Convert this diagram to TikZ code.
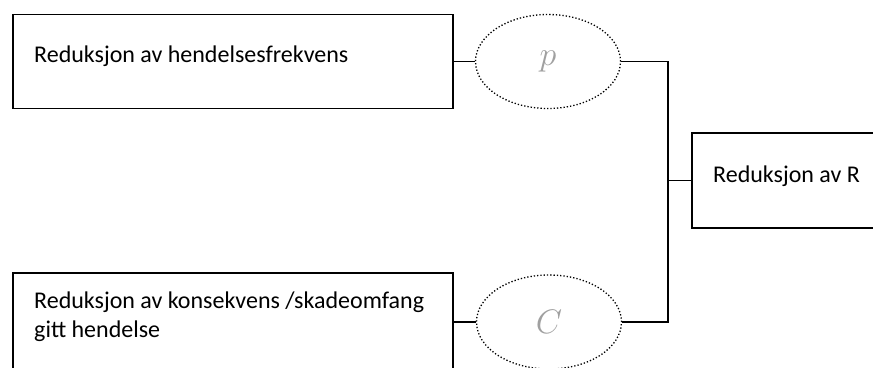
\RequirePackage{fix-cm}
\documentclass[tikz,border=0pt]{standalone}
\usepackage{fontspec}
\setmainfont{Carlito}
\usetikzlibrary{shapes.geometric}
\definecolor{lblgray}{RGB}{160,160,160}
\begin{document}
\begin{tikzpicture}[x=1pt,y=-1pt,
  boxnode/.style={draw=black,line width=1.8pt,rectangle,inner sep=0pt},
  ovalnode/.style={draw=black,line width=1.3pt,dotted,ellipse,inner sep=0pt,minimum width=145pt,minimum height=94pt},
  txt/.style={anchor=base west,inner sep=0pt,font=\fontsize{24}{29}\selectfont},
  mathlbl/.style={text=lblgray,font=\fontsize{34}{36}\selectfont},
  conn/.style={line width=1.8pt}]
\clip (0,0) rectangle (873,367);
\node[boxnode,minimum width=440pt,minimum height=94pt] (b1) at (233,61.5) {};
\node[boxnode,minimum width=440pt,minimum height=130pt] (b2) at (233,338) {};
\node[boxnode,minimum width=200pt,minimum height=95pt] (r) at (792,180.5) {};
\node[ovalnode] (p) at (548,61.5) {};
\node[ovalnode] (c) at (549,322) {};
\node[mathlbl] (pl) at (p) {$p$};
\node[mathlbl] (cl) at (c) {$C$};
\node[txt] (t1) at (34,62) {Reduksjon av hendelsesfrekvens};
\node[txt,align=left] (t2) at (34,337) {Reduksjon av konsekvens /skadeomfang\\gitt hendelse};
\node[txt] (tr) at (713,182) {Reduksjon av R};
\coordinate (j) at (668,180.5);
\draw[conn] (b1.east) -- (p.west);
\draw[conn] (c.west) -- (c.west -| b2.east);
\draw[conn] (p.east) -| (j) |- (c.east);
\draw[conn] (j) -- (r.west);
\end{tikzpicture}
\end{document}
